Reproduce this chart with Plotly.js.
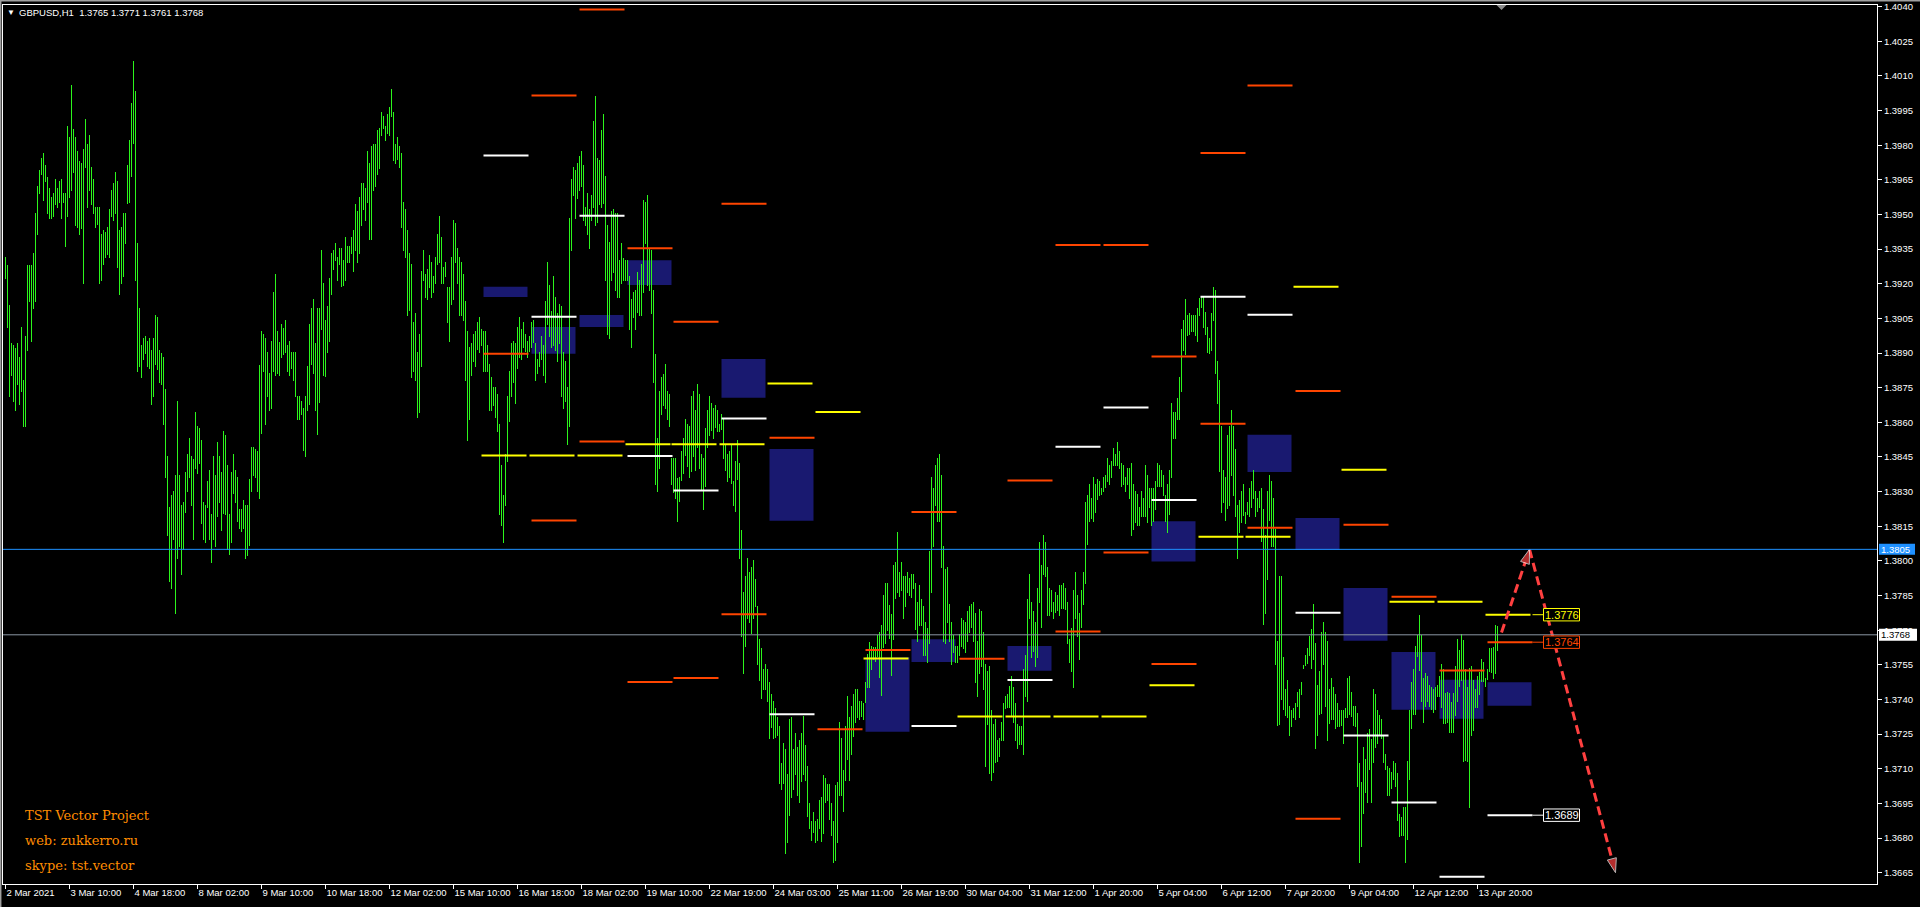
<!DOCTYPE html>
<html><head><meta charset="utf-8">
<script src="https://cdn.plot.ly/plotly-3.0.1.min.js"></script>
<style>html,body{margin:0;padding:0;background:#000;overflow:hidden}#chart{width:1920px;height:907px}
#chart .scatterlayer .trace:first-child path.js-line{shape-rendering:crispEdges}</style>
</head><body><div id="chart"></div>
<script>
// ---------- DATA ----------
const symbolInfo = 'GBPUSD,H1\u00a0\u00a01.3765 1.3771 1.3761 1.3768';
const high = [
1.39315,1.39283,1.39110,1.38945,1.38934,1.38921,1.38943,1.38882,1.39013,1.38783,
1.38973,1.39283,1.39283,1.39283,1.39334,1.39505,1.39623,1.39691,1.39743,1.39765,
1.39713,1.39664,1.39614,1.39575,1.39593,1.39653,1.39614,1.39645,1.39653,1.39593,
1.39593,1.39883,1.39834,1.40062,1.39872,1.39834,1.39774,1.39733,1.39724,1.39782,
1.39913,1.39803,1.39842,1.39705,1.39653,1.39532,1.39532,1.39532,1.39417,1.39433,
1.39425,1.39444,1.39524,1.39606,1.39636,1.39683,1.39645,1.39433,1.39444,1.39505,
1.39505,1.39713,1.39822,1.39981,1.40165,1.40034,1.39376,1.39094,1.38934,1.38965,
1.38972,1.38953,1.38964,1.38913,1.38964,1.39063,1.39055,1.38913,1.38902,1.38882,
1.38743,1.38454,1.38233,1.38284,1.38303,1.38370,1.38692,1.38370,1.38244,1.38255,
1.38386,1.38465,1.38533,1.38454,1.38441,1.38644,1.38584,1.38575,1.38523,1.38255,
1.38241,1.38345,1.38392,1.38204,1.38454,1.38370,1.38515,1.38454,1.38383,1.38562,
1.38547,1.38414,1.38205,1.38383,1.38463,1.38394,1.38363,1.38224,1.38226,1.38263,
1.38244,1.38241,1.38355,1.38493,1.38493,1.38484,1.38476,1.38850,1.38995,1.38984,
1.38965,1.38906,1.38814,1.38953,1.39164,1.39242,1.38995,1.38950,1.39027,1.39008,
1.39043,1.38937,1.38953,1.38906,1.38906,1.38906,1.38714,1.38714,
1.38693,1.38663,1.38715,1.38845,1.39026,1.39096,1.39135,1.38944,1.39096,1.39096,
1.39347,1.39204,1.39044,1.39104,1.39226,1.39334,1.39345,1.39377,1.39316,1.39355,
1.39355,1.39303,1.39403,1.39364,1.39364,1.39402,1.39433,1.39546,1.39516,1.39576,
1.39638,1.39638,1.39615,1.39775,1.39723,1.39797,1.39806,1.39806,1.39866,1.39875,
1.39944,1.39927,1.39884,1.39936,1.39966,1.40044,1.39944,1.39806,1.39836,1.39797,
1.39767,1.39555,1.39524,1.39433,1.39334,1.39286,1.39035,1.39074,1.38905,1.38983,
1.39256,1.39347,1.39243,1.39265,1.39325,1.39295,1.39234,1.39316,1.39416,1.39494,
1.39403,1.39273,1.39295,1.39187,1.39187,1.39316,1.39477,1.39464,1.39355,1.39316,
1.39295,1.39243,1.39126,1.38996,1.38927,1.38944,1.38983,1.38996,1.39035,1.39057,
1.39005,1.38996,1.38996,1.38936,1.38853,1.38797,1.38754,1.38754,1.38723,1.38594,
1.38416,1.38286,1.38464,1.38715,1.38823,1.38944,1.38953,1.38944,1.39013,1.39057,
1.39005,1.39035,1.38983,1.38953,1.38974,1.39035,1.39044,1.38944,1.38875,1.38905,
1.38974,1.38936,1.39126,1.39295,1.39195,1.39083,1.39234,1.39143,1.39074,1.39113,
1.39104,1.38905,1.38866,1.38754,1.39485,1.39654,1.39706,1.39693,1.39723,1.39754,
1.39775,1.39715,1.39533,1.39594,1.39524,1.39585,1.39905,1.40013,1.39745,1.39736,
1.39867,1.39936,1.39666,1.39453,1.39382,1.39516,1.39522,1.39505,1.39505,1.39302,
1.39376,1.39313,1.39302,1.39302,1.39233,1.39134,1.39164,1.39171,1.39253,1.39216,
1.39285,1.39563,1.39554,1.39585,1.39350,1.39345,1.39173,1.38895,1.38531,1.38736,
1.38796,1.38811,1.38852,1.38736,1.38721,1.38445,1.38445,1.38445,1.38359,1.38363,
1.38475,1.38531,1.38615,1.38594,1.38585,1.38714,1.38736,1.38654,1.38766,1.38723,
1.38462,1.38445,1.38576,1.38654,1.38714,1.38684,1.38663,1.38676,1.38654,1.38594,
1.38637,1.38615,1.38505,1.38462,1.38475,1.38505,1.38344,1.38432,1.38523,1.38423,
1.38133,1.37866,1.37935,1.38012,1.37952,1.37973,1.38003,1.37922,1.37805,1.37663,
1.37624,1.37534,1.37553,1.37530,1.37476,1.37424,1.37394,1.37362,1.37325,1.37284,
1.37125,1.37211,1.37185,1.37077,1.37316,1.37325,1.37185,1.37254,1.37194,1.37224,
1.37254,1.37327,1.37202,1.37112,1.36952,1.36875,1.36914,1.36875,1.36883,1.36965,
1.36976,1.37073,1.37062,1.37034,1.37034,1.36952,1.36875,1.37028,1.37043,1.37301,
1.37232,1.37095,1.37284,1.37415,1.37325,1.37372,1.37424,1.37446,1.37446,1.37394,
1.37394,1.37385,1.37476,1.37599,1.37650,1.37633,1.37629,1.37629,1.37678,1.37691,
1.37723,1.37853,1.37904,1.37904,1.37807,1.37771,1.37982,1.37995,1.38124,1.37952,
1.37995,1.37935,1.37935,1.37953,1.37925,1.37944,1.37944,1.37904,1.37822,1.37896,
1.37836,1.37805,1.37736,1.37708,1.38045,1.38364,1.38316,1.38415,1.38446,1.38464,
1.38373,1.38064,1.37964,1.37973,1.37814,1.37736,1.37679,1.37632,1.37632,1.37682,
1.37752,1.37745,1.37735,1.37784,1.37806,1.37814,1.37822,1.37774,1.37653,1.37792,
1.37784,1.37692,1.37553,1.37524,1.37544,1.37354,1.37294,1.37316,1.37225,1.37232,
1.37303,1.37385,1.37417,1.37424,1.37459,1.37502,1.37452,1.37385,1.37294,1.37285,
1.37285,1.37532,1.37594,1.37836,1.37944,1.37822,1.37783,1.37737,1.37882,1.38081,
1.37982,1.38112,1.38081,1.37973,1.37884,1.37874,1.37822,1.37865,1.37852,1.37896,
1.37896,1.37906,1.37882,1.37822,1.37661,1.37708,1.37874,1.37953,1.37852,1.37774,
1.37874,1.37953,1.38257,1.38285,1.38333,1.38272,1.38364,1.38333,1.38355,1.38345,
1.38317,1.38365,1.38374,1.38446,1.38415,1.38433,1.38491,1.38465,1.38515,1.38477,
1.38424,1.38414,1.38365,1.38404,1.38402,1.38424,1.38333,1.38301,1.38288,1.38234,
1.38301,1.38272,1.38415,1.38373,1.38316,1.38316,1.38316,1.38346,1.38424,1.38415,
1.38393,1.38373,1.38285,1.38333,1.38393,1.38685,1.38645,1.38645,1.38705,1.38796,
1.39004,1.39043,1.39134,1.39065,1.39074,1.39065,1.39065,1.39065,1.39095,1.39140,
1.39142,1.39142,1.39076,1.39013,1.38965,1.39074,1.39187,1.39172,1.38866,1.38785,
1.38586,1.38393,1.38364,1.38546,1.38584,1.38654,1.38584,1.38485,1.38243,1.38264,
1.38304,1.38334,1.38213,1.38256,1.38316,1.38347,1.38392,1.38304,1.38273,1.38304,
1.38316,1.38226,1.38110,1.38304,1.38372,1.38347,1.38273,1.38137,1.37654,1.37934,
1.37934,1.37585,1.37446,1.37484,1.37373,1.37356,1.37363,1.37386,1.37432,1.37446,
1.37475,1.37550,1.37593,1.37623,1.37676,1.37706,1.37812,1.37646,1.37462,1.37525,
1.37693,1.37736,1.37693,1.37654,1.37446,1.37494,1.37452,1.37424,1.37386,1.37355,
1.37353,1.37355,1.37364,1.37494,1.37502,1.37432,1.37373,1.37373,1.37341,1.37126,
1.37043,1.37195,1.37142,1.37257,1.37273,1.37229,1.37446,1.37424,1.37355,1.37333,
1.37316,1.37245,1.37162,1.37113,1.37104,1.37084,1.37134,1.37126,1.37083,1.36902,
1.36892,1.36935,1.36934,1.37134,1.37353,1.37477,1.37532,1.37633,1.37681,1.37767,
1.37681,1.37494,1.37514,1.37502,1.37464,1.37452,1.37444,1.37454,1.37464,1.37502,
1.37555,1.37530,1.37426,1.37432,1.37426,1.37389,1.37426,1.37547,1.37664,1.37615,
1.37684,1.37656,1.37530,1.37454,1.37535,1.37543,1.37485,1.37447,1.37502,1.37519,
1.37577,1.37563,1.37494,1.37530,1.37623,1.37623,1.37626,1.37722,1.37716
];
const low = [
1.39220,1.39008,1.38709,1.38800,1.38688,1.38649,1.38761,1.38673,1.38732,1.38580,
1.38580,1.38909,1.39121,1.38950,1.39091,1.39121,1.39411,1.39590,1.39672,1.39560,
1.39642,1.39502,1.39480,1.39480,1.39490,1.39543,1.39527,1.39551,1.39480,1.39551,
1.39359,1.39490,1.39570,1.39601,1.39680,1.39450,1.39442,1.39411,1.39439,1.39200,
1.39700,1.39527,1.39601,1.39543,1.39502,1.39442,1.39455,1.39200,1.39213,1.39283,
1.39312,1.39323,1.39313,1.39490,1.39472,1.39502,1.39268,1.39153,1.39200,1.39230,
1.39371,1.39545,1.39551,1.39663,1.39803,1.39213,1.38819,1.38838,1.38792,1.38869,
1.38898,1.38838,1.38832,1.38673,1.38709,1.38847,1.38827,1.38772,1.38761,1.38588,
1.38359,1.38108,1.37908,1.37878,1.38089,1.37772,1.38008,1.38059,1.37939,1.38048,
1.38208,1.38300,1.38359,1.38238,1.38089,1.38399,1.38378,1.38419,1.38160,1.38089,
1.38078,1.38229,1.38089,1.37993,1.38089,1.38062,1.38189,1.38249,1.38130,1.38205,
1.38197,1.38048,1.38024,1.38078,1.38289,1.38251,1.38169,1.38139,1.38126,1.38138,
1.38008,1.38021,1.38065,1.38298,1.38367,1.38359,1.38298,1.38268,1.38550,1.38817,
1.38588,1.38709,1.38649,1.38657,1.38817,1.38800,1.38808,1.38800,1.38879,1.38893,
1.38902,1.38817,1.38800,1.38832,1.38778,1.38709,1.38610,1.38610,
1.38632,1.38474,1.38452,1.38651,1.38673,1.38849,1.38810,1.38651,1.38543,1.38682,
1.39000,1.38801,1.38796,1.38901,1.38950,1.39152,1.39260,1.39299,1.39213,1.39282,
1.39184,1.39191,1.39213,1.39289,1.39292,1.39329,1.39252,1.39344,1.39290,1.39329,
1.39451,1.39520,1.39472,1.39550,1.39390,1.39390,1.39602,1.39620,1.39671,1.39697,
1.39840,1.39871,1.39819,1.39849,1.39840,1.39923,1.39732,1.39719,1.39736,1.39702,
1.39442,1.39342,1.39312,1.39061,1.39083,1.38793,1.38819,1.38780,1.38620,1.38641,
1.38840,1.39213,1.39139,1.39130,1.39182,1.39139,1.39161,1.39200,1.39282,1.39290,
1.39200,1.39200,1.39230,1.39031,1.38949,1.39109,1.39130,1.39290,1.39200,1.39061,
1.39061,1.39039,1.38780,1.38520,1.38611,1.38801,1.38862,1.38840,1.38914,1.38901,
1.38931,1.38819,1.38819,1.38819,1.38650,1.38651,1.38671,1.38620,1.38560,1.38200,
1.38152,1.38078,1.38239,1.38429,1.38602,1.38710,1.38771,1.38680,1.38832,1.38879,
1.38871,1.38923,1.38905,1.38879,1.38905,1.38923,1.38944,1.38780,1.38810,1.38840,
1.38871,1.38801,1.38771,1.39022,1.38970,1.38923,1.38931,1.38910,1.38862,1.38940,
1.38710,1.38658,1.38689,1.38503,1.38581,1.39342,1.39581,1.39481,1.39568,1.39602,
1.39620,1.39472,1.39451,1.39412,1.39351,1.39472,1.39529,1.39451,1.39464,1.39542,
1.39528,1.39546,1.39212,1.38977,1.38962,1.39212,1.39248,1.39169,1.39139,1.39139,
1.39201,1.39212,1.39212,1.39212,1.39001,1.38923,1.39052,1.39001,1.39072,1.39061,
1.39061,1.39160,1.39371,1.39190,1.39169,1.39070,1.38770,1.38329,1.38299,1.38398,
1.38632,1.38671,1.38658,1.38611,1.38581,1.38329,1.38294,1.38266,1.38169,1.38253,
1.38344,1.38378,1.38454,1.38406,1.38361,1.38383,1.38452,1.38389,1.38490,1.38400,
1.38305,1.38221,1.38320,1.38488,1.38540,1.38561,1.38527,1.38576,1.38557,1.38557,
1.38568,1.38441,1.38389,1.38342,1.38357,1.38331,1.38238,1.38210,1.38352,1.38008,
1.37672,1.37512,1.37627,1.37747,1.37730,1.37683,1.37747,1.37799,1.37549,1.37482,
1.37400,1.37443,1.37441,1.37390,1.37228,1.37278,1.37228,1.37232,1.37241,1.37032,
1.37010,1.37032,1.36733,1.36780,1.36894,1.36972,1.37010,1.37071,1.36980,1.36950,
1.37041,1.37071,1.37045,1.36892,1.36840,1.36789,1.36821,1.36778,1.36786,1.36840,
1.36782,1.36819,1.36952,1.36961,1.36879,1.36808,1.36690,1.36702,1.36780,1.36980,
1.36980,1.36911,1.37049,1.37138,1.37049,1.37159,1.37239,1.37299,1.37321,1.37312,
1.37325,1.37312,1.37383,1.37450,1.37450,1.37527,1.37571,1.37562,1.37583,1.37491,
1.37413,1.37624,1.37642,1.37698,1.37663,1.37502,1.37659,1.37835,1.37861,1.37844,
1.37869,1.37749,1.37802,1.37859,1.37849,1.37841,1.37877,1.37702,1.37650,1.37720,
1.37720,1.37588,1.37588,1.37559,1.37642,1.37862,1.38060,1.38238,1.38169,1.38168,
1.37969,1.37648,1.37642,1.37733,1.37650,1.37550,1.37601,1.37559,1.37559,1.37588,
1.37628,1.37620,1.37601,1.37648,1.37686,1.37711,1.37648,1.37472,1.37412,1.37511,
1.37540,1.37440,1.37108,1.37291,1.37079,1.37049,1.37080,1.37123,1.37130,1.37152,
1.37222,1.37222,1.37360,1.37364,1.37364,1.37330,1.37298,1.37222,1.37184,1.37205,
1.37205,1.37161,1.37412,1.37390,1.37749,1.37579,1.37606,1.37540,1.37579,1.37818,
1.37711,1.37941,1.37932,1.37762,1.37762,1.37778,1.37749,1.37774,1.37784,1.37762,
1.37790,1.37790,1.37787,1.37642,1.37559,1.37521,1.37449,1.37749,1.37672,1.37572,
1.37711,1.37809,1.37901,1.38070,1.38169,1.38181,1.38169,1.38207,1.38264,1.38282,
1.38284,1.38298,1.38316,1.38342,1.38329,1.38360,1.38411,1.38411,1.38411,1.38398,
1.38322,1.38329,1.38300,1.38329,1.38269,1.38109,1.38133,1.38162,1.38153,1.38153,
1.38190,1.38190,1.38190,1.38162,1.38229,1.38153,1.38169,1.38221,1.38319,1.38322,
1.38322,1.38281,1.38168,1.38122,1.38199,1.38361,1.38528,1.38528,1.38610,1.38610,
1.38731,1.38909,1.38893,1.38972,1.38979,1.38992,1.38993,1.38972,1.38948,1.39061,
1.39093,1.39010,1.38980,1.38901,1.38894,1.38909,1.39040,1.38811,1.38680,1.38384,
1.38208,1.38251,1.38171,1.38223,1.38238,1.38369,1.38282,1.38190,1.38009,1.38122,
1.38166,1.38193,1.38161,1.38198,1.38191,1.38228,1.38269,1.38190,1.38210,1.38228,
1.38080,1.37721,1.37770,1.37918,1.38171,1.38060,1.38060,1.37550,1.37283,1.37290,
1.37399,1.37353,1.37328,1.37321,1.37240,1.37282,1.37320,1.37311,1.37368,1.37321,
1.37419,1.37530,1.37543,1.37555,1.37588,1.37530,1.37572,1.37184,1.37240,1.37331,
1.37338,1.37550,1.37369,1.37222,1.37292,1.37311,1.37311,1.37270,1.37280,1.37282,
1.37283,1.37209,1.37321,1.37321,1.37333,1.37325,1.37283,1.37282,1.37021,1.36690,
1.36760,1.36902,1.36993,1.36950,1.37093,1.36950,1.37123,1.37189,1.37207,1.37245,
1.37229,1.37123,1.37093,1.36980,1.36980,1.37013,1.37050,1.37021,1.36872,1.36803,
1.36811,1.36811,1.36690,1.36790,1.37050,1.37270,1.37331,1.37331,1.37582,1.37522,
1.37389,1.37300,1.37369,1.37391,1.37369,1.37353,1.37340,1.37355,1.37411,1.37411,
1.37361,1.37292,1.37292,1.37300,1.37253,1.37253,1.37253,1.37328,1.37391,1.37452,
1.37482,1.37129,1.37133,1.37131,1.36930,1.37240,1.37262,1.37361,1.37364,1.37419,
1.37477,1.37477,1.37452,1.37485,1.37519,1.37514,1.37489,1.37510,1.37611
];

// daily levels: [start bar, price]
const orangeLevels = [[239,1.38897],[263,1.40015],[263,1.38175],[287,1.40387],[287,1.38517],[311,1.39354],[311,1.37476],[334,1.39035],[334,1.37493],[358,1.39546],[358,1.37769],[382,1.38533],[406,1.37271],[430,1.37614],[453,1.38212],[477,1.37576],[501,1.38348],[525,1.39368],[525,1.37694],[549,1.39368],[549,1.38036],[573,1.38885],[573,1.37554],[597.5,1.39766],[597.5,1.38594],[621,1.40058],[621,1.38143],[645,1.38736],[645,1.36884],[669,1.38157],[693,1.37845],[717,1.37525],[741,1.37648]];
const whiteLevels = [[239,1.39755],[263,1.39057],[287,1.39494],[311,1.38454],[334,1.38305],[358,1.38617],[382,1.37336],[453,1.37285],[501,1.37484],[525,1.38494],[549,1.38664],[573,1.38264],[597.5,1.39144],[621,1.39066],[645,1.37775],[669,1.37244],[693,1.36954],[717,1.36632],[741,1.36899]];
const yellowLevels = [[238,1.38456],[262,1.38456],[286,1.38456],[310,1.38505],[333,1.38505],[357,1.38505],[381,1.38768],[405,1.38645],[429,1.37577],[476,1.37326],[500,1.37326],[524,1.37326],[548,1.37326],[572,1.37462],[596.5,1.38105],[620,1.38105],[644,1.39187],[668,1.38395],[692,1.37823],[716,1.37823],[740,1.37767]];
// zones: [start bar, top, bottom]
const zones = [[239,1.39187,1.39143],[263,1.39013,1.38897],[287,1.39065,1.39013],[311,1.39302,1.39195],[358,1.38874,1.38706],[382,1.38484,1.38174],[430,1.37583,1.37260],[453,1.37661,1.37562],[501,1.37632,1.37524],[573,1.38172,1.37997],[621,1.38546,1.38385],[645,1.38186,1.38047],[669,1.37883,1.37654],[693,1.37606,1.37355],[717,1.37485,1.37316],[741,1.37475,1.37373]];
const levelLabels = [[1.37767,'#ffff00','1.3776'],[1.37648,'#ff4500','1.3764'],[1.36899,'#ffffff','1.3689']];
const blueLine = 1.3805, bidLine = 1.3768;
const projBars = [748, 762, 805];
const projPrices = [1.3769, 1.3805, 1.3665];
const priceTicks = ['1.4040','1.4025','1.4010','1.3995','1.3980','1.3965','1.3950','1.3935','1.3920','1.3905','1.3890','1.3875','1.3860','1.3845','1.3830','1.3815','1.3800','1.3785','1.3770','1.3755','1.3740','1.3725','1.3710','1.3695','1.3680','1.3665'];
const tickBars = [0,32,64,96,128,160,192,224,256,288,320,352,384,416,448,480,512,544,576,608,640,672,704,736];
const timeLabels = ['2 Mar 2021','3 Mar 10:00','4 Mar 18:00','8 Mar 02:00','9 Mar 10:00','10 Mar 18:00','12 Mar 02:00','15 Mar 10:00','16 Mar 18:00','18 Mar 02:00','19 Mar 10:00','22 Mar 19:00','24 Mar 03:00','25 Mar 11:00','26 Mar 19:00','30 Mar 04:00','31 Mar 12:00','1 Apr 20:00','5 Apr 04:00','6 Apr 12:00','7 Apr 20:00','9 Apr 04:00','12 Apr 12:00','13 Apr 20:00'];
const footer = ['TST Vector Project','web: zukkerro.ru','skype: tst.vector'];

// ---------- BUILD ----------
const LEVEL_LEN = 22.5, ZONE_LEN = 22;
const yRange = [1.36601, 1.40407];
const PLOT_H = 879, PLOT_W = 1874;
const PX = (yRange[1]-yRange[0]) / PLOT_H;

const cx = [], cy = [];
for (let i = 0; i < high.length; i++) { cx.push(i, i, null); cy.push(low[i], high[i], null); }

function levelTrace(list, color) {
  const x = [], y = [];
  list.forEach(([s, p]) => { x.push(s, s + LEVEL_LEN, null); y.push(p, p, null); });
  return {type:'scatter', mode:'lines', x, y, line:{color, width:2}, hoverinfo:'skip', showlegend:false};
}

const traces = [
  {type:'scatter', mode:'lines', x:cx, y:cy, line:{color:'#2cf51c', width:1}, hoverinfo:'skip', showlegend:false},
  levelTrace(whiteLevels, '#ffffff'),
  levelTrace(yellowLevels, '#ffff00'),
  levelTrace(orangeLevels, '#ff4500'),
  {type:'scatter', mode:'lines+markers', x:projBars, y:projPrices,
   line:{color:'#ff4040', width:3, dash:'9px,5px'},
   marker:{symbol:'arrow', size:[0,15,15], angleref:'previous', color:'#ff4040'},
   hoverinfo:'skip', showlegend:false}
];

const shapes = [];
zones.forEach(([s, t, b]) => shapes.push({type:'rect', xref:'x', yref:'y', x0:s, x1:s+ZONE_LEN, y0:b, y1:t, fillcolor:'#191970', line:{width:0}, layer:'below'}));
shapes.push({type:'line', xref:'paper', yref:'y', x0:0, x1:1, y0:blueLine, y1:blueLine, line:{color:'#1e90ff', width:1}});
shapes.push({type:'line', xref:'paper', yref:'y', x0:0, x1:1, y0:bidLine, y1:bidLine, line:{color:'#8a96a3', width:1}});
levelLabels.forEach(([p, c]) => {
  shapes.push({type:'line', xref:'x', yref:'y', x0:763.5, x1:769, y0:p, y1:p, line:{color:c, width:1}});
  shapes.push({type:'rect', xref:'x', yref:'y', x0:769, x1:787, y0:p-6.2*PX, y1:p+6.2*PX, fillcolor:'#000', line:{color:c, width:1}});
});
// axis price boxes
shapes.push({type:'rect', xref:'paper', yref:'y', x0:1+2/PLOT_W, x1:1+38/PLOT_W, y0:blueLine-5.5*PX, y1:blueLine+5.5*PX, fillcolor:'#1e90ff', line:{width:0}});
shapes.push({type:'rect', xref:'paper', yref:'y', x0:1+2/PLOT_W, x1:1+40/PLOT_W, y0:bidLine-6*PX, y1:bidLine+6*PX, fillcolor:'#ffffff', line:{width:0}});
// window border + shift marker
shapes.push({type:'line', xref:'paper', yref:'paper', x0:-3/PLOT_W, x1:1+43/PLOT_W, y0:1+4.3/PLOT_H, y1:1+4.3/PLOT_H, line:{color:'#a0a0a0', width:1.5}});
shapes.push({type:'line', xref:'paper', yref:'paper', x0:-2.3/PLOT_W, x1:-2.3/PLOT_W, y0:-23/PLOT_H, y1:1+5/PLOT_H, line:{color:'#a0a0a0', width:1.5}});
shapes.push({type:'path', xref:'x', yref:'paper', path:'M745.5,1 L750.5,1 L748,'+(1-5/PLOT_H)+' Z', fillcolor:'#8c8c8c', line:{width:0}});

const annotations = [];
annotations.push({xref:'paper', yref:'paper', x:(10.7-3)/PLOT_W, y:1-7.5/PLOT_H, xanchor:'center', yanchor:'middle', text:'\u25BC', showarrow:false, font:{family:'Liberation Sans', size:8, color:'#ffffff'}});
annotations.push({xref:'paper', yref:'paper', x:(17-3)/PLOT_W, y:1-7.5/PLOT_H, xanchor:'left', yanchor:'middle', text:symbolInfo, showarrow:false, font:{family:'Liberation Sans', size:9.5, color:'#ffffff'}});
footer.forEach((t, k) => annotations.push({xref:'paper', yref:'paper', x:(23-3)/PLOT_W, y:(884-(815+25*k))/PLOT_H, xanchor:'left', yanchor:'middle', text:t, showarrow:false, font:{family:'DejaVu Serif', size:13, color:'#ff8c00'}}));
levelLabels.forEach(([p, c, t]) => annotations.push({xref:'x', yref:'y', x:778, y:p, xanchor:'center', yanchor:'middle', text:t, showarrow:false, borderpad:0, font:{family:'Liberation Sans', size:11, color:c}}));
annotations.push({xref:'paper', yref:'y', x:1+3/PLOT_W, y:blueLine, xanchor:'left', yanchor:'middle', text:blueLine.toFixed(4), showarrow:false, borderpad:0, font:{family:'Liberation Sans', size:9.5, color:'#ffffff'}});
annotations.push({xref:'paper', yref:'y', x:1+3/PLOT_W, y:bidLine, xanchor:'left', yanchor:'middle', text:bidLine.toFixed(4), showarrow:false, borderpad:0, font:{family:'Liberation Sans', size:9.5, color:'#000000'}});

const layout = {
  width:1920, height:907,
  paper_bgcolor:'#000', plot_bgcolor:'#000',
  margin:{l:3, r:43, t:5, b:23, pad:0},
  showlegend:false,
  xaxis:{range:[-1.25, 935.75], showgrid:false, zeroline:false, showline:true, linecolor:'#ffffff', linewidth:1, mirror:true,
    ticks:'outside', ticklen:4, tickcolor:'#ffffff', tickvals:tickBars, ticktext:timeLabels, ticklabelposition:'outside right',
    tickangle:0, automargin:false,
    tickfont:{family:'Liberation Sans', size:9.5, color:'#ffffff'}, fixedrange:true},
  yaxis:{range:yRange, side:'right', showgrid:false, zeroline:false, showline:true, linecolor:'#ffffff', linewidth:1, mirror:true,
    ticks:'outside', ticklen:4, tickcolor:'#ffffff', tickvals:priceTicks.map(Number), ticktext:priceTicks, automargin:false,
    tickfont:{family:'Liberation Sans', size:9.5, color:'#ffffff'}, fixedrange:true},
  shapes, annotations
};
Plotly.newPlot('chart', traces, layout, {staticPlot:true, displayModeBar:false});
</script></body></html>
